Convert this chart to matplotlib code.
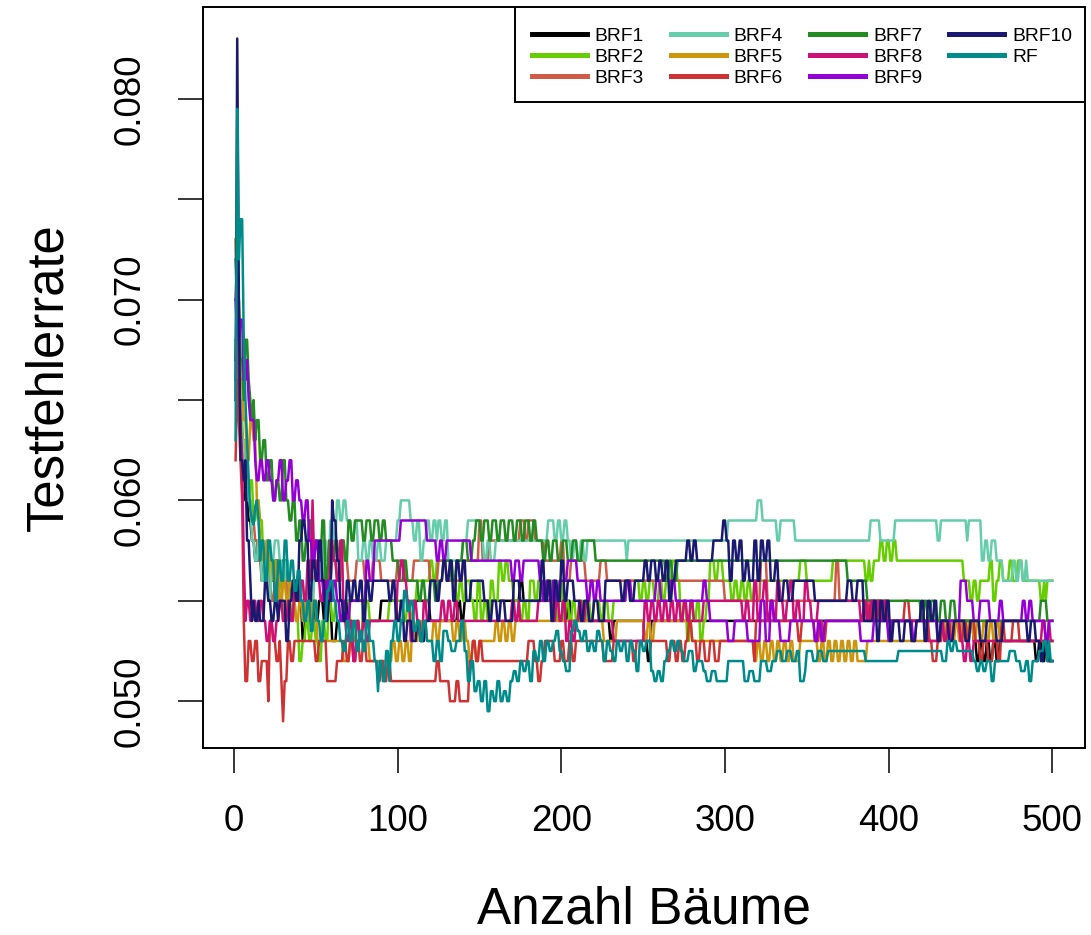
import matplotlib
matplotlib.use("Agg")
import matplotlib.pyplot as plt
from matplotlib.patches import Rectangle
import numpy as np

plt.rcParams['font.family'] = ['Liberation Sans', 'DejaVu Sans']

# Testfehlerrate in Promille, als (Anzahl Baeume, Wert) an den Stellen,
# an denen sich der Wert aendert (dazwischen konstant)
brf1 = [(1, 67), (2, 70), (3, 65), (5, 63), (7, 60), (9, 59), (11, 58), (13, 57), (15, 58),
        (17, 56), (20, 57), (22, 56), (25, 57), (28, 56), (30, 57), (33, 56), (35, 55), (38, 56),
        (40, 55), (42, 53), (44, 55), (46, 54), (48, 55), (50, 54), (52, 55), (55, 54), (58, 55),
        (60, 53), (63, 54), (70, 55), (80, 54), (90, 55), (100, 54), (110, 55), (120, 54),
        (137, 55), (139, 54), (141, 55), (175, 56), (177, 55), (202, 54), (204, 55), (206, 54),
        (230, 53), (232, 54), (251, 53), (253, 52), (255, 54), (452, 53), (454, 52), (456, 53),
        (458, 52), (460, 53), (462, 52), (464, 53), (466, 52), (468, 53), (490, 52), (492, 53),
        (494, 52), (496, 53), (498, 52)]

brf2 = [(1, 68), (2, 66), (4, 64), (6, 62), (8, 60), (10, 61), (12, 59), (14, 60), (16, 59),
        (18, 57), (20, 58), (22, 56), (24, 57), (26, 55), (28, 56), (30, 54), (32, 55), (34, 54),
        (36, 55), (38, 54), (40, 52), (42, 53), (44, 54), (46, 53), (48, 54), (50, 53), (52, 52),
        (54, 54), (56, 53), (58, 55), (60, 54), (62, 55), (65, 54), (68, 55), (71, 54), (73, 53),
        (75, 54), (77, 53), (79, 55), (83, 54), (95, 55), (104, 54), (106, 55), (108, 54),
        (110, 55), (112, 56), (120, 57), (122, 56), (124, 57), (134, 56), (136, 55), (138, 56),
        (140, 55), (142, 56), (145, 55), (147, 54), (149, 56), (151, 54), (153, 55), (155, 54),
        (157, 56), (159, 55), (162, 57), (164, 56), (166, 57), (168, 56), (171, 55), (175, 54),
        (177, 55), (179, 54), (181, 56), (184, 55), (186, 56), (189, 55), (191, 56), (195, 55),
        (197, 54), (199, 56), (201, 54), (203, 55), (205, 54), (207, 55), (209, 54), (212, 55),
        (214, 54), (216, 55), (218, 54), (220, 55), (224, 54), (226, 55), (229, 54), (232, 55),
        (240, 56), (248, 55), (250, 56), (252, 55), (254, 56), (257, 55), (260, 56), (262, 55),
        (264, 56), (268, 57), (271, 56), (273, 54), (275, 55), (277, 53), (279, 55), (281, 54),
        (283, 55), (285, 53), (287, 54), (289, 55), (291, 57), (294, 56), (296, 57), (299, 56),
        (304, 55), (306, 56), (308, 55), (310, 56), (312, 55), (314, 56), (316, 55), (318, 56),
        (346, 57), (350, 56), (366, 57), (386, 56), (388, 57), (389, 56), (391, 57), (395, 58),
        (397, 57), (399, 58), (401, 57), (403, 58), (405, 57), (446, 56), (450, 55), (452, 56),
        (454, 55), (456, 56), (462, 57), (464, 55), (466, 56), (468, 57), (470, 56), (474, 57),
        (476, 56), (479, 57), (482, 56), (493, 55), (495, 56), (496, 55), (497, 56)]

brf3 = [(1, 73), (2, 68), (3, 64), (5, 62), (7, 63), (9, 60), (11, 59), (13, 58), (15, 57),
        (17, 56), (19, 57), (21, 56), (23, 55), (25, 56), (27, 55), (30, 56), (33, 55), (36, 56),
        (40, 55), (45, 56), (50, 57), (55, 56), (60, 57), (63, 56), (66, 58), (68, 57), (70, 56),
        (75, 57), (80, 56), (85, 57), (90, 56), (100, 57), (105, 56), (110, 57), (120, 56),
        (125, 57), (130, 56), (140, 57), (150, 59), (152, 57), (156, 58), (175, 59), (178, 58),
        (180, 59), (184, 58), (190, 57), (200, 58), (202, 56), (206, 57), (215, 56), (224, 57),
        (228, 56), (300, 55), (322, 57), (326, 55), (368, 57), (370, 55), (395, 54)]

brf4 = [(1, 66), (2, 74), (3, 68), (4, 65), (5, 63), (7, 61), (9, 60), (11, 58), (13, 57),
        (15, 58), (17, 56), (19, 57), (21, 55), (23, 57), (25, 58), (28, 57), (30, 56), (32, 57),
        (34, 55), (37, 56), (39, 55), (41, 56), (43, 55), (45, 56), (47, 54), (49, 56), (51, 57),
        (53, 56), (55, 58), (57, 57), (59, 59), (61, 58), (63, 60), (65, 59), (67, 60), (69, 59),
        (72, 58), (74, 59), (76, 57), (79, 58), (81, 57), (83, 58), (85, 57), (88, 58), (90, 57),
        (93, 58), (100, 59), (102, 60), (108, 59), (110, 58), (112, 59), (114, 57), (116, 58),
        (118, 59), (120, 58), (122, 59), (124, 58), (125, 59), (127, 58), (129, 59), (131, 57),
        (140, 58), (143, 59), (151, 58), (153, 57), (155, 58), (157, 57), (160, 58), (192, 59),
        (196, 58), (198, 59), (200, 58), (202, 59), (204, 58), (206, 57), (208, 58), (210, 57),
        (212, 58), (214, 57), (216, 58), (240, 57), (241, 58), (302, 59), (320, 60), (323, 59),
        (332, 58), (334, 59), (343, 58), (389, 59), (395, 58), (404, 59), (430, 58), (432, 59),
        (448, 58), (449, 59), (457, 57), (459, 58), (461, 57), (463, 58), (466, 57), (470, 56),
        (476, 57), (478, 56), (480, 57), (482, 56), (484, 57), (485, 56)]

brf5 = [(1, 73), (2, 70), (4, 66), (6, 64), (8, 62), (10, 64), (12, 63), (14, 60), (16, 58),
        (18, 57), (20, 58), (22, 57), (24, 56), (26, 57), (28, 55), (30, 56), (32, 55), (34, 56),
        (36, 55), (38, 54), (40, 55), (42, 54), (44, 55), (46, 54), (48, 55), (51, 53), (67, 52),
        (71, 53), (83, 52), (97, 53), (99, 52), (101, 53), (103, 52), (105, 53), (107, 52),
        (109, 54), (111, 53), (113, 54), (115, 53), (117, 54), (118, 53), (122, 54), (124, 53),
        (126, 54), (134, 53), (136, 54), (138, 53), (140, 54), (142, 53), (144, 52), (146, 53),
        (148, 52), (150, 53), (160, 54), (162, 53), (164, 54), (166, 53), (168, 54), (170, 53),
        (172, 54), (226, 53), (234, 54), (251, 53), (253, 54), (255, 53), (257, 54), (280, 53),
        (318, 52), (320, 53), (322, 52), (324, 53), (326, 52), (328, 53), (330, 52), (332, 53),
        (334, 52), (336, 53), (338, 52), (340, 53), (342, 52), (346, 53), (357, 52), (359, 53),
        (361, 52), (363, 53), (365, 52), (367, 53), (369, 52), (371, 53), (373, 52), (375, 53),
        (377, 52), (379, 53), (381, 52), (387, 53), (433, 54), (435, 53), (437, 54), (439, 53),
        (441, 54), (443, 53), (445, 54), (447, 53), (449, 54), (452, 53), (454, 54), (456, 53),
        (458, 54), (460, 53), (462, 54), (464, 53), (466, 54), (468, 53)]

brf6 = [(1, 62), (2, 66), (3, 64), (4, 62), (5, 60), (6, 54), (7, 51), (9, 53), (11, 52),
        (13, 53), (15, 51), (17, 52), (21, 50), (22, 54), (24, 53), (26, 52), (28, 53), (29, 51),
        (30, 49), (31, 51), (33, 53), (35, 52), (37, 53), (50, 52), (52, 53), (57, 51), (63, 52),
        (67, 53), (69, 52), (71, 53), (73, 52), (75, 53), (77, 52), (79, 53), (81, 52), (88, 51),
        (90, 52), (92, 51), (94, 52), (96, 51), (124, 52), (126, 51), (132, 50), (136, 51),
        (138, 50), (144, 52), (146, 53), (148, 52), (150, 53), (152, 52), (180, 53), (184, 52),
        (186, 51), (188, 52), (190, 53), (196, 52), (200, 53), (202, 52), (205, 53), (207, 52),
        (209, 53), (226, 52), (232, 53), (244, 52), (246, 53), (265, 52), (267, 53), (270, 52),
        (272, 53), (274, 52), (276, 53), (278, 54), (280, 53), (283, 52), (285, 53), (288, 52),
        (291, 53), (294, 52), (297, 53), (318, 52), (319, 54), (345, 53), (347, 54), (355, 53),
        (358, 54), (360, 53), (362, 54), (386, 55), (388, 54), (390, 55), (392, 54), (394, 55),
        (396, 54), (398, 55), (400, 54), (410, 55), (413, 54), (425, 53), (427, 52), (430, 53),
        (433, 54), (444, 53), (446, 54), (448, 53), (450, 54), (453, 53), (456, 52), (458, 53),
        (461, 52), (464, 53), (467, 52), (469, 54), (471, 53), (476, 54), (480, 53)]

brf7 = [(1, 72), (2, 70), (4, 67), (6, 65), (7, 68), (9, 66), (10, 65), (11, 64), (12, 65),
        (13, 63), (14, 64), (16, 62), (18, 63), (20, 61), (22, 62), (24, 60), (26, 61), (28, 60),
        (30, 62), (32, 60), (34, 59), (36, 60), (38, 58), (40, 59), (42, 57), (44, 58), (46, 59),
        (48, 57), (50, 58), (52, 57), (54, 59), (56, 56), (58, 58), (60, 57), (62, 58), (64, 57),
        (66, 58), (68, 57), (70, 59), (72, 58), (74, 59), (79, 58), (81, 59), (84, 58), (86, 59),
        (89, 58), (91, 59), (93, 58), (97, 57), (101, 56), (104, 57), (106, 56), (113, 55),
        (115, 56), (117, 55), (120, 56), (123, 55), (125, 56), (128, 57), (133, 56), (136, 57),
        (140, 58), (143, 57), (146, 58), (148, 59), (151, 58), (153, 59), (156, 58), (158, 59),
        (161, 58), (163, 59), (166, 58), (168, 59), (171, 58), (173, 59), (176, 58), (178, 59),
        (181, 58), (183, 59), (185, 58), (189, 57), (191, 58), (193, 57), (195, 58), (198, 57),
        (201, 58), (204, 57), (207, 58), (210, 57), (213, 58), (221, 57), (262, 57), (264, 56),
        (266, 57), (268, 56), (271, 57), (375, 56), (387, 55), (420, 54), (422, 55), (424, 54),
        (426, 55), (429, 54), (432, 55), (435, 54), (438, 55), (441, 54), (493, 55), (497, 54)]

brf8 = [(1, 70), (2, 72), (3, 66), (4, 64), (5, 62), (6, 57), (7, 54), (8, 55), (10, 54),
        (12, 55), (14, 54), (16, 55), (18, 54), (20, 53), (22, 54), (24, 53), (26, 54), (28, 55),
        (30, 54), (33, 55), (35, 54), (37, 56), (39, 55), (41, 56), (43, 55), (45, 57), (47, 56),
        (48, 60), (49, 57), (51, 56), (53, 55), (55, 56), (57, 55), (59, 58), (61, 57), (63, 56),
        (65, 58), (67, 54), (69, 53), (71, 54), (73, 52), (75, 54), (77, 53), (79, 54), (81, 53),
        (83, 54), (100, 56), (102, 57), (104, 56), (106, 55), (108, 53), (110, 55), (112, 54),
        (114, 53), (116, 55), (118, 54), (127, 55), (129, 54), (131, 55), (133, 54), (135, 55),
        (137, 54), (170, 55), (172, 54), (174, 55), (175, 54), (186, 55), (195, 54), (197, 55),
        (199, 54), (201, 55), (203, 53), (205, 54), (207, 53), (209, 54), (211, 55), (213, 54),
        (215, 55), (217, 54), (232, 53), (251, 55), (253, 54), (255, 55), (257, 54), (259, 55),
        (261, 54), (263, 55), (265, 54), (267, 55), (269, 54), (271, 55), (273, 54), (275, 55),
        (277, 54), (279, 55), (281, 54), (287, 55), (311, 54), (313, 55), (315, 54), (318, 56),
        (320, 54), (322, 55), (324, 56), (326, 54), (328, 55), (330, 54), (332, 56), (334, 55),
        (336, 54), (338, 55), (340, 56), (342, 54), (344, 55), (346, 54), (349, 56), (351, 55),
        (353, 54), (357, 55), (383, 54), (385, 55), (387, 54), (389, 55), (391, 54), (393, 55),
        (395, 54), (397, 55), (399, 54), (424, 53), (432, 54), (434, 53), (436, 54), (438, 53),
        (440, 54), (444, 53), (446, 52), (448, 53), (450, 52), (452, 53), (494, 54), (496, 53),
        (498, 54), (499, 53)]

brf9 = [(1, 70), (2, 68), (4, 69), (6, 66), (8, 67), (9, 65), (10, 64), (13, 62), (14, 61),
        (16, 62), (18, 61), (20, 62), (22, 61), (24, 60), (26, 61), (28, 62), (30, 60), (32, 61),
        (34, 62), (36, 60), (38, 61), (40, 60), (42, 59), (44, 60), (46, 58), (48, 57), (50, 58),
        (52, 56), (55, 55), (57, 56), (59, 55), (61, 56), (63, 55), (65, 54), (67, 55), (69, 54),
        (71, 55), (81, 57), (83, 56), (86, 58), (102, 59), (118, 58), (124, 57), (126, 58),
        (128, 57), (130, 58), (145, 57), (170, 56), (172, 57), (175, 56), (177, 57), (187, 56),
        (189, 55), (191, 56), (193, 55), (195, 56), (197, 55), (199, 56), (204, 57), (210, 56),
        (216, 55), (218, 56), (220, 55), (222, 56), (224, 55), (240, 56), (243, 55), (258, 56),
        (261, 55), (267, 56), (270, 55), (287, 56), (289, 55), (291, 54), (302, 53), (306, 54),
        (314, 53), (322, 55), (325, 53), (328, 55), (330, 54), (334, 53), (340, 54), (355, 53),
        (357, 54), (359, 53), (361, 54), (383, 53), (391, 54), (400, 53), (402, 54), (415, 53),
        (417, 54), (430, 53), (432, 54), (444, 56), (448, 55), (452, 54), (456, 55), (462, 54),
        (468, 55), (470, 54), (482, 55), (484, 54), (486, 55), (488, 54), (496, 53), (498, 54)]

brf10 = [(1, 65), (2, 83), (3, 70), (4, 62), (6, 61), (7, 62), (8, 58), (10, 56), (11, 54),
         (12, 55), (13, 54), (15, 55), (16, 54), (19, 56), (21, 55), (23, 54), (25, 55), (27, 54),
         (28, 55), (32, 53), (34, 55), (36, 56), (38, 55), (40, 58), (42, 59), (44, 58), (46, 55),
         (48, 57), (50, 56), (52, 58), (54, 56), (56, 54), (58, 55), (60, 60), (61, 59), (63, 57),
         (65, 55), (67, 54), (69, 56), (71, 55), (73, 56), (75, 55), (77, 56), (79, 54), (81, 56),
         (83, 55), (85, 56), (95, 55), (97, 56), (99, 54), (102, 55), (104, 53), (106, 54),
         (109, 53), (112, 54), (114, 53), (117, 54), (120, 56), (124, 55), (126, 56), (128, 57),
         (130, 56), (132, 57), (134, 55), (136, 57), (138, 56), (140, 57), (142, 55), (145, 56),
         (153, 55), (156, 54), (158, 55), (161, 54), (163, 55), (166, 54), (171, 56), (175, 55),
         (188, 57), (190, 55), (192, 56), (194, 54), (196, 56), (198, 55), (200, 57), (202, 55),
         (204, 56), (208, 55), (212, 54), (214, 55), (217, 54), (220, 55), (223, 54), (227, 56),
         (237, 55), (239, 56), (242, 55), (245, 56), (251, 57), (253, 56), (255, 57), (258, 56),
         (260, 57), (262, 56), (264, 57), (266, 55), (268, 56), (270, 57), (277, 58), (279, 57),
         (281, 58), (283, 57), (293, 58), (299, 59), (301, 58), (303, 56), (305, 58), (307, 57),
         (309, 58), (311, 56), (313, 57), (315, 56), (318, 58), (320, 56), (322, 58), (324, 57),
         (326, 58), (328, 56), (331, 57), (333, 55), (336, 56), (339, 55), (342, 56), (355, 55),
         (375, 56), (378, 55), (381, 56), (385, 54), (391, 55), (393, 53), (395, 55), (397, 54),
         (399, 55), (401, 53), (403, 54), (407, 53), (410, 54), (414, 53), (417, 54), (420, 55),
         (422, 53), (424, 55), (426, 54), (428, 55), (430, 53), (432, 54), (437, 53), (440, 54),
         (447, 53), (450, 54), (456, 53), (460, 54), (466, 53), (470, 54), (485, 53), (487, 54),
         (490, 53), (493, 52), (495, 53), (497, 52)]

rf = [(1, 63), (2, 79.5), (3, 72), (4, 74), (6, 68), (7, 65), (8, 63), (9, 61), (10, 59.5),
      (11, 59), (12, 58.8), (13, 59.7), (14, 60), (15, 59), (16, 57), (17, 58), (19, 56), (21, 58),
      (23, 57), (25, 55), (27, 57), (29, 56), (31, 58), (33, 56), (35, 57), (37, 55.5), (39, 56.5),
      (41, 55), (43, 54), (45, 55), (47, 53.5), (49, 55), (51, 54), (53, 53), (55, 54), (57, 55.5),
      (59, 56), (61, 55), (63, 54), (65, 53), (67, 52.5), (69, 54), (71, 53), (73, 54), (75, 52.5),
      (77, 53.5), (79, 52.5), (81, 54), (83, 53), (86, 52), (88, 50.5), (89, 52), (91, 51),
      (93, 52.5), (95, 51), (96, 53), (98, 54), (100, 53), (102, 54), (104, 55.5), (106, 54.5),
      (108, 55), (110, 53.5), (112, 54), (114, 53), (116, 54), (118, 53), (122, 52), (124, 53),
      (126, 52), (128, 53.5), (131, 53), (133, 52.5), (136, 53), (139, 54), (141, 52.5), (143, 51),
      (145, 52), (147, 50.5), (149, 51), (151, 50), (153, 51), (155, 49.5), (157, 50.5), (159, 50),
      (161, 51), (163, 50), (165, 50.5), (167, 50), (169, 51), (171, 51.5), (173, 51), (175, 52),
      (177, 51.5), (179, 52), (181, 51), (183, 52.5), (185, 52), (187, 53), (189, 52), (191, 53),
      (193, 52.5), (195, 53), (197, 53.5), (199, 52.5), (201, 52), (203, 51.5), (206, 53.5),
      (208, 54), (210, 53.5), (212, 53), (214, 53.5), (216, 52.5), (218, 53), (220, 52.5),
      (222, 53.5), (224, 53), (226, 52), (228, 53), (230, 52.5), (232, 52), (234, 53), (236, 52.5),
      (238, 53), (240, 52), (242, 53), (244, 52.5), (246, 51.5), (248, 53), (250, 52.5), (252, 53),
      (255, 51.5), (257, 51), (259, 51.5), (261, 51), (263, 52), (265, 52.5), (267, 53),
      (269, 52.5), (271, 53), (273, 52.5), (275, 52), (278, 52.5), (281, 51.5), (283, 52),
      (287, 51.5), (289, 51), (292, 51.5), (295, 51), (302, 52), (312, 51), (315, 51.5), (318, 51),
      (322, 52), (326, 51.5), (329, 52), (332, 52.5), (335, 52), (338, 52.5), (341, 52),
      (344, 52.5), (346, 51), (349, 51.5), (350, 52.5), (354, 52), (357, 52.5), (360, 52),
      (363, 52.5), (386, 52), (406, 52.5), (433, 52), (436, 53), (438, 52.5), (440, 53),
      (442, 52.5), (452, 52), (454, 51.5), (456, 52), (458, 51.5), (460, 52), (463, 51),
      (465, 52), (474, 52.5), (478, 52), (481, 51.5), (484, 52), (486, 51), (488, 52),
      (492, 52.5), (495, 53), (497, 52), (498, 53), (499, 52)]

namen = ['BRF1', 'BRF2', 'BRF3', 'BRF4', 'BRF5', 'BRF6', 'BRF7', 'BRF8', 'BRF9', 'BRF10', 'RF']
reihen = [brf1, brf2, brf3, brf4, brf5, brf6, brf7, brf8, brf9, brf10, rf]
farben = ['black', '#66CD00', '#CD5B45', '#66CDAA', '#CD950C', '#CD3333',
          '#228B22', '#CD1076', '#9400D3', '#191970', '#008B8B']
n_baeume = 500


def linienzug(reihe):
    # Wert bleibt bis zum naechsten Wechsel gleich; der Wechsel selbst
    # wird wie bei einer Linie von Baum t-1 nach Baum t gezeichnet
    t = [reihe[0][0]]
    v = [reihe[0][1]]
    for (t0, v0), (t1, v1) in zip(reihe[:-1], reihe[1:]):
        if t1 - 1 > t0:
            t.append(t1 - 1)
            v.append(v0)
        t.append(t1)
        v.append(v1)
    t.append(n_baeume)
    v.append(reihe[-1][1])
    return np.array(t), np.array(v) / 1000


fig = plt.figure(figsize=(10.91, 9.35), dpi=100)
ax = fig.add_axes([0.186, 0.2, 0.8085, 0.7925])

for name, reihe, farbe in zip(namen, reihen, farben):
    t, v = linienzug(reihe)
    ax.plot(t, v, color=farbe, lw=1.8, label=name)

ax.set_xlim(-18.96, 519.96)
ax.set_ylim(0.04767, 0.08457)

ax.set_xticks([0, 100, 200, 300, 400, 500])
yt = [0.050, 0.055, 0.060, 0.065, 0.070, 0.075, 0.080]
ax.set_yticks(yt)
ax.set_yticklabels(['0.050', '', '0.060', '', '0.070', '', '0.080'],
                   rotation=90, va='center')
ax.tick_params(axis='both', direction='out', length=18, width=1.1,
               labelsize=26.5, pad=22)

for s in ax.spines.values():
    s.set_linewidth(1.4)

ax.set_xlabel('Anzahl Bäume', fontsize=37, labelpad=34)
ax.set_ylabel('Testfehlerrate', fontsize=36.5, labelpad=28)

# Legendenrahmen wie in R: wenig Rand seitlich, mehr oben/unten
rahmen = Rectangle((0.3538, 0.8718), 0.6462, 0.1282, transform=ax.transAxes,
                   facecolor='white', edgecolor='black', lw=1.4, zorder=4)
ax.add_patch(rahmen)
leg = ax.legend(loc='upper left', bbox_to_anchor=(0.3731, 0.973), ncol=4,
                fontsize=13.9, frameon=False, borderaxespad=0, borderpad=0,
                handlelength=2.85, handletextpad=0.4, columnspacing=1.4,
                labelspacing=0.18)
leg.set_zorder(5)
for h in leg.get_lines():
    h.set_linewidth(3.6)

fig.savefig('out.png', dpi=100)
